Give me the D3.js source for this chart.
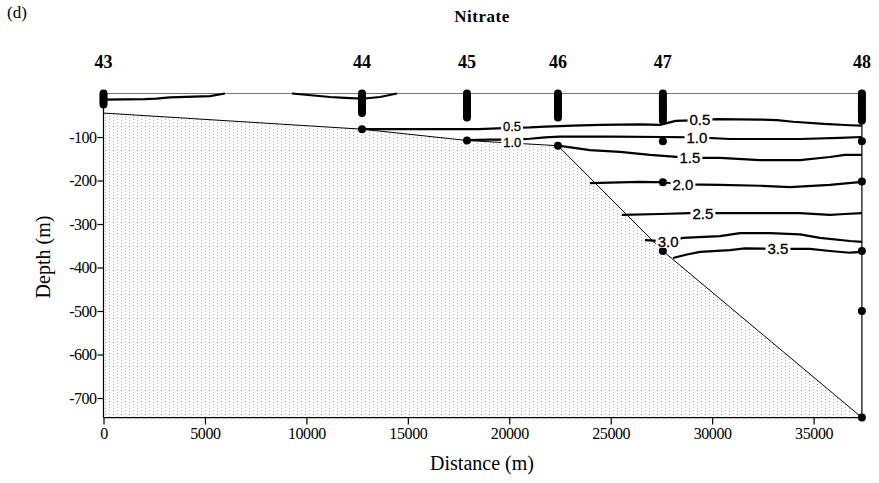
<!DOCTYPE html>
<html>
<head>
<meta charset="utf-8">
<script src="https://cdn.jsdelivr.net/npm/d3@7"></script>
<style>
  html, body { margin: 0; padding: 0; background: #fff; }
  svg { display: block; }
</style>
</head>
<body>
<svg id="chart" width="879" height="483"></svg>
<script>
// ---------------- data ----------------
const stationNames = ["43", "44", "45", "46", "47", "48"];
const stationDist  = [0, 12740, 17915, 22400, 27570, 37380];
const bottomDepth  = [-45, -82, -108, -120, -362, -745];

// sample depths (m, negative downwards) at each station
const samples43 = [0, -5, -10, -15, -20, -25];
const samples44 = [0, -5, -10, -15, -20, -25, -30, -35, -40, -45, -82];
const samples45 = [0, -5, -10, -15, -20, -25, -30, -35, -40, -45, -50, -55, -108];
const samples46 = [0, -5, -10, -15, -20, -25, -30, -35, -40, -45, -50, -55, -120];
const samples47 = [0, -5, -10, -15, -20, -25, -30, -35, -40, -45, -50, -55, -62, -110, -204, -362];
const samples48 = [0, -5, -10, -15, -20, -25, -30, -35, -40, -45, -50, -55, -62, -110, -202, -362, -500, -745];

const xTicks = [0, 5000, 10000, 15000, 20000, 25000, 30000, 35000];
const yTicks = [-100, -200, -300, -400, -500, -600, -700];

// contour lines: [distance, depth]
const contourSurfaceA = [[0,-14],[2045,-13],[2600,-12],[3277,-9],[5249,-6],[5988,0]];
const contourSurfaceB = [[9290,0],[11163,-8],[11902,-10],[12740,-12],[13628,-8],[14465,0]];
const contour05 = [[12740,-82],[15000,-82],[18500,-82],[20133,-79],[21020,-78],[21760,-76],[22499,-75],[23140,-74],[24471,-72],[26442,-71],[27429,-72],[28200,-63],[29399,-61],[30237,-59],[32356,-60],[33194,-61],[33982,-65],[35500,-70],[36792,-73],[37380,-74]];
const contour10 = [[17915,-107],[19000,-106],[20280,-106],[21020,-104],[21760,-101],[22499,-99],[25000,-99],[27570,-100],[29250,-101],[30878,-104.6],[34327,-104.6],[36299,-102],[37380,-100]];
const contour15 = [[22400,-120],[23978,-130],[25456,-134],[26935,-141],[28906,-148],[30385,-148],[32356,-153],[34327,-153],[35806,-146],[36545,-141],[37380,-141]];
const contour20 = [[23978,-206],[26442,-203],[27570,-204],[28560,-209],[30385,-210],[32356,-212],[33835,-215],[35806,-210],[37380,-203]];
const contour25 = [[25550,-279],[27429,-277],[28906,-275],[30385,-275],[32356,-275],[34327,-275],[35806,-279],[36545,-277],[37380,-275]];
const contour30 = [[26688,-337],[27830,-340],[28560,-332],[30385,-328],[31371,-321],[32849,-321],[34327,-324],[35313,-332],[36792,-339],[37380,-341]];
const contour35 = [[28070,-378],[28760,-370],[29399,-364],[30878,-360],[31617,-356],[33243,-357],[34820,-357],[35806,-362],[36792,-366],[37380,-364]];

// contour labels: text, distance, depth
const labelText = ["0.5", "1.0", "0.5", "1.0", "1.5", "2.0", "2.5", "3.0", "3.5"];
const labelDist = [20133, 20150, 29399, 29250, 28906, 28560, 29547, 27830, 33243];
const labelDepth = [-75, -113, -61, -101, -148, -209, -275, -340, -357];

// ---------------- drawing ----------------
const svg = d3.select("#chart");
const x = d3.scaleLinear().domain([0, 37400]).range([103.5, 862.3]);
const y = d3.scaleLinear().domain([0, -745]).range([93.5, 417.6]);

const serif = "'Liberation Serif', 'Times New Roman', serif";
const sans = "'Liberation Sans', Arial, sans-serif";

// stipple pattern
const defs = svg.append("defs");
const pat = defs.append("pattern").attr("id", "stip")
  .attr("width", 8).attr("height", 6).attr("patternUnits", "userSpaceOnUse");
[[1,0],[1,3],[5,2],[5,5]].forEach(p => {
  pat.append("rect").attr("x", p[0]).attr("y", p[1]).attr("width", 1).attr("height", 1).attr("fill", "#b4b4b4");
});

// seabed polygon
const bathy = stationDist.map((d, i) => [d, bottomDepth[i]]);
const poly = bathy.concat([[37380, -745], [0, -745]]);
svg.append("path")
  .attr("d", d3.line().x(d => x(d[0])).y(d => y(d[1]))(poly) + "Z")
  .attr("fill", "url(#stip)").attr("stroke", "none");

// seabed line
svg.append("path")
  .attr("d", d3.line().x(d => x(d[0])).y(d => y(d[1]))(bathy))
  .attr("fill", "none").attr("stroke", "#000").attr("stroke-width", 1);

// surface line
svg.append("line")
  .attr("x1", x(0)).attr("x2", x(37380)).attr("y1", y(0)).attr("y2", y(0))
  .attr("stroke", "#777").attr("stroke-width", 1);

// station 48 vertical line
svg.append("line")
  .attr("x1", x(37380)).attr("x2", x(37380)).attr("y1", y(0)).attr("y2", y(-745))
  .attr("stroke", "#000").attr("stroke-width", 1.2);

// contours
const cline = d3.line().x(d => x(d[0])).y(d => y(d[1]));
[contourSurfaceA, contourSurfaceB, contour05, contour10, contour15, contour20, contour25, contour30, contour35]
  .forEach(c => {
    svg.append("path").attr("d", cline(c))
      .attr("fill", "none").attr("stroke", "#000").attr("stroke-width", 2.2)
      .attr("stroke-linejoin", "round");
  });

// axes
const xAxis = d3.axisBottom(x).tickValues(xTicks).tickFormat(d => String(d)).tickSize(7).tickPadding(3);
const gx = svg.append("g").attr("transform", `translate(0,${y(-745)})`).call(xAxis);
gx.select(".domain").attr("d", `M${x(0)},0H${x(37380)}`).attr("stroke", "#000").attr("stroke-width", 1.2);
gx.selectAll(".tick line").attr("stroke", "#000").attr("stroke-width", 1.2);
gx.selectAll("text").attr("font-family", serif).attr("font-size", 16).attr("fill", "#000")
  .attr("letter-spacing", -0.4);

const yAxis = d3.axisLeft(y).tickValues(yTicks).tickFormat(d => String(d)).tickSize(6).tickPadding(1);
const gy = svg.append("g").attr("transform", `translate(${x(0)},0)`).call(yAxis);
gy.select(".domain").attr("d", `M0,${y(0)}V${y(-745)}`).attr("stroke", "#000").attr("stroke-width", 1.2);
gy.selectAll(".tick line").attr("stroke", "#000").attr("stroke-width", 1.2);
gy.selectAll("text").attr("font-family", serif).attr("font-size", 16).attr("fill", "#000")
  .attr("letter-spacing", -0.5);

// sample dots
const allSamples = [samples43, samples44, samples45, samples46, samples47, samples48];
allSamples.forEach((arr, i) => {
  svg.append("g").selectAll("circle").data(arr).join("circle")
    .attr("cx", x(stationDist[i])).attr("cy", d => y(d)).attr("r", 4).attr("fill", "#000");
});

// contour labels with white boxes that break the lines
const lg = svg.append("g");
labelText.forEach((t, i) => {
  const g = lg.append("g");
  const rect = g.append("rect").attr("fill", "#fff");
  const txt = g.append("text")
    .attr("x", x(labelDist[i])).attr("y", y(labelDepth[i]))
    .attr("dy", "0.36em").attr("text-anchor", "middle")
    .attr("font-family", sans).attr("font-size", i < 2 ? 13 : 15).attr("fill", "#000")
    .attr("stroke", "#000").attr("stroke-width", 0.3)
    .text(t);
  const bb = txt.node().getBBox();
  rect.attr("x", bb.x - 2).attr("y", bb.y + 2).attr("width", bb.width + 4).attr("height", bb.height - 4);
});

// station labels
svg.append("g").selectAll("text").data(stationNames).join("text")
  .attr("x", (d, i) => x(stationDist[i])).attr("y", 68)
  .attr("text-anchor", "middle").attr("font-family", serif).attr("font-weight", "bold")
  .attr("font-size", 18).attr("fill", "#000").text(d => d);

// title & panel letter
svg.append("text").attr("x", 482).attr("y", 22).attr("text-anchor", "middle")
  .attr("font-family", serif).attr("font-weight", "bold").attr("font-size", 17)
  .attr("letter-spacing", 0.5).text("Nitrate");
svg.append("text").attr("x", 7).attr("y", 18)
  .attr("font-family", serif).attr("font-size", 17).text("(d)");

// axis titles
svg.append("text").attr("x", 482).attr("y", 470).attr("text-anchor", "middle")
  .attr("font-family", serif).attr("font-size", 20).text("Distance (m)");
svg.append("text").attr("transform", "translate(50,257) rotate(-90)").attr("text-anchor", "middle")
  .attr("font-family", serif).attr("font-size", 20).text("Depth (m)");
</script>
</body>
</html>
